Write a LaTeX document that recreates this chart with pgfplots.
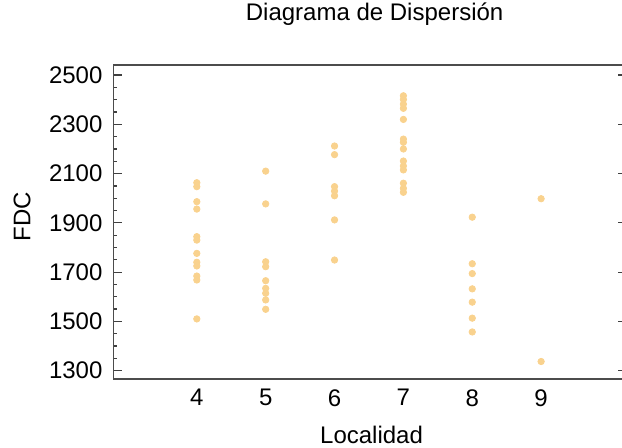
\documentclass[border=0pt]{standalone}
\usepackage{fontspec}
\setmainfont{Liberation Sans}
\usepackage{pgfplots}
\pgfplotsset{compat=1.18}
\definecolor{dotc}{RGB}{249,210,142}
\begin{document}
\begin{tikzpicture}
\useasboundingbox (-56.75pt,-34.5pt) rectangle (254.25pt,189.5pt);
\begin{axis}[
 scale only axis, width=256.5pt, height=157pt,
 xmin=2.79, xmax=10.24, ymin=1266, ymax=2541,
 xtick={4,...,9}, ytick={1300,1500,...,2500}, minor y tick num=3,
 x tick style={draw=none}, ytick pos=both,
 major tick length=4.5pt, minor tick length=2pt,
 tick style={black!75, line width=0.6pt},
 axis line style={black!70, line width=0.9pt},
 /pgf/number format/assume math mode=true,
 /pgf/number format/set thousands separator={},
 tick label style={font=\fontsize{12}{14.4}\selectfont},
 label style={font=\fontsize{12}{14.4}\selectfont},
 title={Diagrama de Dispersión},
 title style={font=\fontsize{12}{14.4}\selectfont, at={(axis description cs:0.509,1.102)}, anchor=base, inner sep=0pt},
 xlabel={Localidad},
 xlabel style={at={(axis description cs:0.503,-0.205)}, anchor=base, inner sep=0pt},
 ylabel={FDC},
 ylabel style={at={(axis description cs:-0.178,0.5175)}, anchor=center, inner sep=0pt},
 xticklabel style={yshift=-1.7pt}, yticklabel style={xshift=-2pt},
]
\addplot[only marks, mark=*, mark size=1.6pt, mark options={draw=dotc, fill=dotc}] coordinates {
 (4,2063) (4,2047) (4,1986) (4,1956) (4,1844) (4,1830) (4,1776) (4,1740) (4,1725) (4,1684) (4,1668) (4,1510)
 (5,2110) (5,1977) (5,1742) (5,1722) (5,1665) (5,1634) (5,1614) (5,1587) (5,1549)
 (6,2212) (6,2177) (6,2047) (6,2029) (6,2010) (6,1912) (6,1749)
 (7,2416) (7,2401) (7,2382) (7,2365) (7,2320) (7,2240) (7,2227) (7,2200) (7,2151) (7,2131) (7,2115) (7,2061) (7,2040) (7,2024)
 (8,1923) (8,1734) (8,1694) (8,1632) (8,1578) (8,1513) (8,1457)
 (9,1998) (9,1337)
};
\end{axis}
\end{tikzpicture}
\end{document}
